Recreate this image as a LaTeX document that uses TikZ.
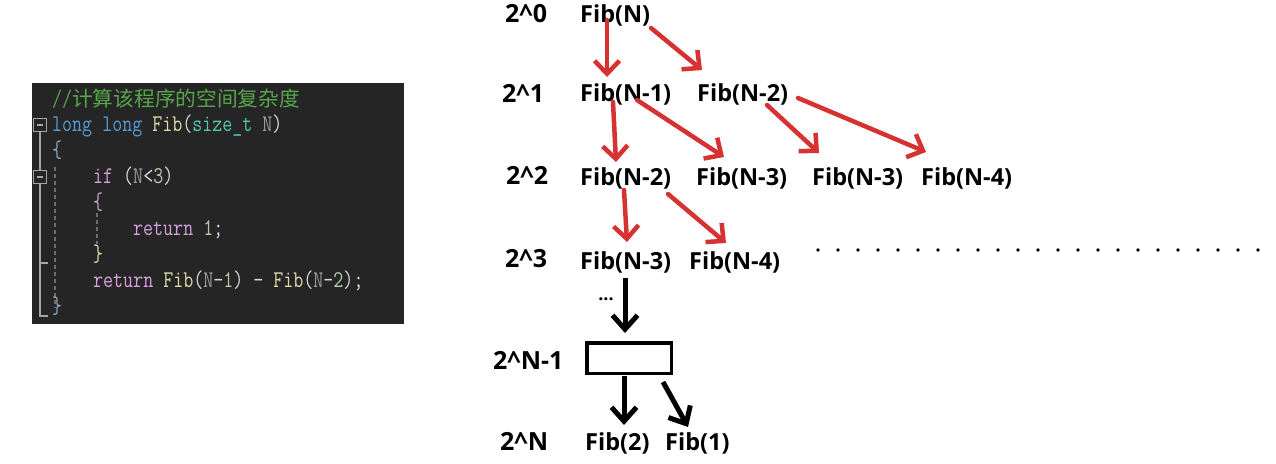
\documentclass[tikz,border=0pt]{standalone}
\usepackage{graphicx}
\usepackage{fontspec}
\setmainfont{Open Sans}
\newfontfamily\cjk{Noto Sans CJK SC}
\usetikzlibrary{arrows.meta,calc}
\definecolor{arred}{HTML}{D63232}
\definecolor{panelbg}{HTML}{252525}
\definecolor{ccom}{HTML}{57A64A}
\definecolor{ckwc}{HTML}{569CD6}
\definecolor{cfnc}{HTML}{DCDCAA}
\definecolor{ctyc}{HTML}{4EC9B0}
\definecolor{cpac}{HTML}{9B9B9B}
\definecolor{cctc}{HTML}{D8A0DF}
\definecolor{cnmc}{HTML}{B5CEA8}
\definecolor{cpun}{HTML}{DCDCDC}
\definecolor{cbr1}{HTML}{8FA9C8}
\definecolor{cbr2}{HTML}{C8A2C8}
\definecolor{cfold}{HTML}{A5A5A5}
\definecolor{cguide}{HTML}{6E6E6E}
\newcommand\ckw[1]{\textcolor{ckwc}{#1}}
\newcommand\cfn[1]{\textcolor{cfnc}{#1}}
\newcommand\cty[1]{\textcolor{ctyc}{#1}}
\newcommand\cpa[1]{\textcolor{cpac}{#1}}
\newcommand\cct[1]{\textcolor{cctc}{#1}}
\newcommand\cnm[1]{\textcolor{cnmc}{#1}}
\newcommand\cln[1]{\scalebox{0.81}[1]{\fontsize{24}{26}\selectfont\ttfamily #1}}
\begin{document}
\begin{tikzpicture}[x=1pt,y=-1pt,
  lbl/.style={font=\fontsize{23.5}{26}\selectfont\bfseries, inner sep=0pt, anchor=base west},
  lvl/.style={font=\fontsize{25}{26}\selectfont\bfseries, inner sep=0pt, anchor=base west},
  redarr/.style={draw=arred, line width=4.5pt, line cap=round, -{Straight Barb[length=13pt,width=25pt]}},
  blkarr/.style={draw=black, line width=5pt, -{Straight Barb[length=14pt,width=25pt]}},
  code/.style={inner sep=0pt, anchor=base west, text=cpun},
  fold/.style={draw=cfold, line width=1.2pt},
  guide/.style={draw=cguide, line width=1.8pt, dash pattern=on 4pt off 3pt}]
\useasboundingbox (0,0) rectangle (1276,463);
\fill[white] (0,0) rectangle (1276,463);

% ---------- code panel ----------
\node[fill=panelbg, inner sep=0pt, minimum width=372pt, minimum height=241pt, anchor=north west] (panel) at (32,83) {};
\draw[fold] (33.5,118.5) rectangle (46.5,131.5);
\draw[fold] (37,125) -- (43,125);
\draw[fold] (33.5,170.5) rectangle (46.5,183.5);
\draw[fold] (37,177) -- (43,177);
\draw[fold] (40,131.5) -- (40,170.5);
\draw[fold] (40,183.5) -- (40,316) -- (48,316);
\draw[fold] (40,263) -- (48,263);
\draw[guide] (55,167) -- (55,308);
\draw[guide] (97,213) -- (97,244);

\node[code] (c1) at (52,106) {\textcolor{ccom}{\cln{//}{\cjk\fontsize{20.7}{24}\selectfont 计算该程序的空间复杂度}}};
\node[code] (c2) at (52,131) {\cln{\ckw{long} \ckw{long} \cfn{Fib}(\cty{size\_t} \cpa{N})}};
\node[code] (c3) at (52,157) {\cln{\textcolor{cbr1}{\{}}};
\node[code] (c4) at (93,183) {\cln{\cct{if} (\cpa{N}<\cnm{3})}};
\node[code] (c5) at (93,209) {\cln{\textcolor{cbr2}{\{}}};
\node[code] (c6) at (133,235) {\cln{\cct{return} \cnm{1};}};
\node[code] (c7) at (93,261) {\cln{\textcolor{cfnc}{\}}}};
\node[code] (c8) at (93,287) {\cln{\cct{return} \cfn{Fib}(\cpa{N}-\cnm{1}) - \cfn{Fib}(\cpa{N}-\cnm{2});}};
\node[code] (c9) at (52,313) {\cln{\textcolor{cbr1}{\}}}};

% ---------- tree labels ----------
\node[lvl] (l0) at (505,23) {2\^{}0};
\node[lvl] (l1) at (502,102) {2\^{}1};
\node[lvl] (l2) at (506,184) {2\^{}2};
\node[lvl] (l3) at (505,267) {2\^{}3};
\node[lvl] (l4) at (493,369) {2\^{}N-1};
\node[lvl] (l5) at (500,450) {2\^{}N};

\node[lbl] (n0) at (580,23) {Fib(N)};
\node[lbl] (n1a) at (580,101) {Fib(N-1)};
\node[lbl] (n1b) at (697,101) {Fib(N-2)};
\node[lbl] (n2a) at (580,185) {Fib(N-2)};
\node[lbl] (n2b) at (696,185) {Fib(N-3)};
\node[lbl] (n2c) at (812,185) {Fib(N-3)};
\node[lbl] (n2d) at (921,185) {Fib(N-4)};
\node[lbl] (n3a) at (580,269) {Fib(N-3)};
\node[lbl] (n3b) at (689,269) {Fib(N-4)};
\node[font=\fontsize{18}{20}\selectfont\bfseries, inner sep=0pt, anchor=base] (nd) at (606,300) {...};
\node[draw, line width=3.5pt, minimum width=84.5pt, minimum height=30.5pt, inner sep=0pt] (box) at (629,358) {};
\node[lbl] (n5a) at (585,450) {Fib(2)};
\node[lbl] (n5b) at (665,450) {Fib(1)};

\foreach \i in {0,...,22} \fill ({818+20*\i},250) circle[radius=1.8pt];

% ---------- red arrows ----------
\draw[redarr] ($(n0.base west)+(27,-3)$) -- ($(n1a.base west)+(27,-24)$);
\draw[redarr] ($(n0.base west)+(71,5)$) -- ($(n1b.base west)+(5,-31)$);
\draw[redarr] ($(n1a.base west)+(33,1)$) -- ($(n2a.base west)+(36,-23)$);
\draw[redarr] ($(n1a.base west)+(57,-1)$) -- ($(n2b.base west)+(28,-28)$);
\draw[redarr] ($(n1b.base west)+(70,4)$) -- ($(n2c.base west)+(7,-32)$);
\draw[redarr] ($(n1b.base west)+(101,-3)$) -- ($(n2d.base west)+(5,-33)$);
\draw[redarr] ($(n2a.base west)+(44,5)$) -- ($(n3a.base west)+(47,-27)$);
\draw[redarr] ($(n2a.base west)+(88,9)$) -- ($(n3b.base west)+(37,-26)$);

% ---------- black arrows ----------
\draw[blkarr] ($(n3a.base west)+(45,9)$) -- ($(box.north)+(-4,-8)$);
\draw[blkarr] ($(box.south)+(-5,1)$) -- ($(n5a.base west)+(39,-25)$);
\draw[blkarr] ($(box.south east)+(-10,7)$) -- ($(n5b.base west)+(23,-23)$);
\end{tikzpicture}
\end{document}
